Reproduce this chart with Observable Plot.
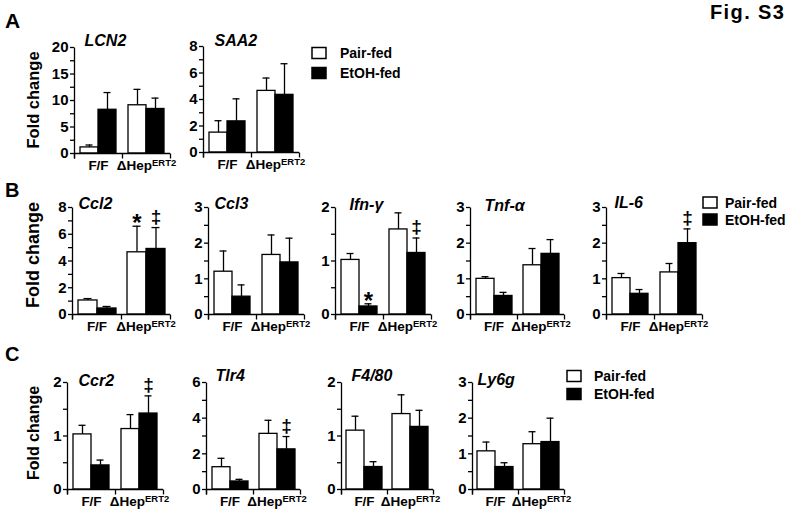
<!DOCTYPE html>
<html><head><meta charset="utf-8">
<script src="https://cdn.jsdelivr.net/npm/d3@7"></script>
<script src="https://cdn.jsdelivr.net/npm/@observablehq/plot@0.6"></script>
<style>
html,body{margin:0;padding:0;background:#fff;}
#fig{position:relative;width:788px;height:515px;overflow:hidden;background:#fff;font-family:"Liberation Sans",Arial,sans-serif;}
</style></head><body><div id="fig"></div>
<script>
// ---------- data ----------
const genes = ["LCN2","SAA2","Ccl2","Ccl3","Ifn-γ","Tnf-α","IL-6","Ccr2","Tlr4","F4/80","Ly6g"];
const groups = ["F/F", "ΔHepERT2"];
const conditions = ["Pair-fed", "EtOH-fed"];
// means and SEM (F/F = floxed, KO = ΔHepERT2)
const pairFF     = [1.15, 1.5,  1.05, 1.2,  1.02, 1.0,  1.02, 1.03, 1.25, 1.1,  1.07];
const pairFFsem  = [0.45, 0.9,  0.14, 0.58, 0.12, 0.06, 0.13, 0.17, 0.5,  0.27, 0.26];
const etohFF     = [8.25, 2.35, 0.45, 0.5,  0.15, 0.52, 0.58, 0.45, 0.45, 0.42, 0.63];
const etohFFsem  = [3.25, 1.7,  0.15, 0.33, 0.05, 0.1,  0.12, 0.1,  0.12, 0.1,  0.12];
const pairKO     = [9.1,  4.65, 4.65, 1.67, 1.59, 1.38, 1.18, 1.13, 3.12, 1.41, 1.27];
const pairKOsem  = [3.0,  0.97, 1.95, 0.56, 0.31, 0.47, 0.25, 0.27, 0.76, 0.36, 0.35];
const etohKO     = [8.4,  4.35, 4.9,  1.46, 1.15, 1.7,  2.0,  1.42, 2.25, 1.17, 1.33];
const etohKOsem  = [2.05, 2.35, 1.6,  0.68, 0.28, 0.4,  0.4,  0.33, 0.72, 0.31, 0.67];
const yMax       = [20, 8, 8, 3, 2, 3, 3, 2, 6, 2, 3];
const yLabelStep = [5, 2, 2, 1, 1, 1, 1, 1, 2, 1, 1];
const yMinorStep = [2.5, 1, 1, 0.5, 0.5, 0.5, 0.5, 0.5, 1, 0.5, 0.5];
// significance marks
const sigGene   = ["Ccl2", "Ccl2", "Ifn-γ", "Ifn-γ", "IL-6", "Ccr2", "Tlr4"];
const sigGroup  = ["ΔHepERT2", "ΔHepERT2", "F/F", "ΔHepERT2", "ΔHepERT2", "ΔHepERT2", "ΔHepERT2"];
const sigCond   = ["Pair-fed", "EtOH-fed", "EtOH-fed", "EtOH-fed", "EtOH-fed", "EtOH-fed", "EtOH-fed"];
const sigSymbol = ["*", "‡", "*", "‡", "‡", "‡", "‡"];
const rowLetters = ["A", "B", "C"];
const yTitle = "Fold change";

// ---------- layout (page pixels) ----------
const layout = {
  "LCN2":  {x0: 73,  x1: 170, yTop: 47,  y0: 153, tdx: 10, tdy: -2},
  "SAA2":  {x0: 202, x1: 299, yTop: 46,  y0: 152, tdx: 11, tdy: -1},
  "Ccl2":  {x0: 71,  x1: 170, yTop: 207, y0: 314, tdx: 6,  tdy: 1},
  "Ccl3":  {x0: 207, x1: 304, yTop: 207, y0: 314, tdx: 6,  tdy: 1},
  "Ifn-γ": {x0: 335, x1: 431, yTop: 207, y0: 314, tdx: 14, tdy: 2},
  "Tnf-α": {x0: 470, x1: 564, yTop: 207, y0: 314, tdx: 14, tdy: 3},
  "IL-6":  {x0: 606, x1: 702, yTop: 207, y0: 314, tdx: 8,  tdy: 0},
  "Ccr2":  {x0: 66,  x1: 163, yTop: 382, y0: 489, tdx: 11, tdy: 3},
  "Tlr4":  {x0: 205, x1: 300, yTop: 382, y0: 489, tdx: 9,  tdy: -2},
  "F4/80": {x0: 340, x1: 433, yTop: 382, y0: 489, tdx: 10, tdy: -2},
  "Ly6g":  {x0: 472, x1: 564, yTop: 382, y0: 489, tdx: 5,  tdy: 2}
};

const FONT = "'Liberation Sans', Arial, sans-serif";
const fig = document.getElementById("fig");
const SW = 1.3;

function panel(i) {
  const g = genes[i];
  const L = layout[g];
  const innerW = L.x1 - L.x0, innerH = L.y0 - L.yTop;
  const mL = 34, mR = 8, mT = 26, mB = 28;
  const rows = [
    {group: groups[0], cond: conditions[0], mean: pairFF[i], sem: pairFFsem[i]},
    {group: groups[0], cond: conditions[1], mean: etohFF[i], sem: etohFFsem[i]},
    {group: groups[1], cond: conditions[0], mean: pairKO[i], sem: pairKOsem[i]},
    {group: groups[1], cond: conditions[1], mean: etohKO[i], sem: etohKOsem[i]}
  ];
  rows.forEach(r => r.top = r.mean + r.sem);
  const sig = sigGene.map((s, k) => ({gene: s, group: sigGroup[k], cond: sigCond[k], symbol: sigSymbol[k]}))
    .filter(s => s.gene === g)
    .map(s => ({...s, top: rows.find(r => r.group === s.group && r.cond === s.cond).top}));
  const eps = 1e-9;
  const allTicks = d3.range(0, yMax[i] + eps, yMinorStep[i]);
  const isMajor = v => Math.abs(v / yLabelStep[i] - Math.round(v / yLabelStep[i])) < 1e-6;

  const svg = Plot.plot({
    width: innerW + mL + mR,
    height: innerH + mT + mB,
    marginLeft: mL, marginRight: mR, marginTop: mT, marginBottom: mB,
    style: {fontFamily: FONT, fontWeight: "bold", fontSize: "15px", color: "black", background: "transparent", overflow: "visible"},
    fx: {domain: groups, padding: 0, label: null},
    x: {domain: conditions, paddingInner: 0, paddingOuter: 0.27, axis: null},
    y: {domain: [0, yMax[i]], label: null},
    color: {domain: conditions, range: ["white", "black"]},
    marks: [
      Plot.ruleX(rows, {fx: "group", x: "cond", y1: "mean", y2: "top", stroke: "black", strokeWidth: SW}),
      Plot.tickY(rows, {fx: "group", x: "cond", y: "top", stroke: "black", strokeWidth: SW, insetLeft: 5.5, insetRight: 5.5}),
      Plot.barY(rows, {fx: "group", x: "cond", y: "mean", fill: "cond", stroke: "black", strokeWidth: SW}),
      Plot.ruleY([0], {stroke: "black", strokeWidth: SW}),
      Plot.frame({anchor: "left", facetAnchor: "left", insetBottom: -5, stroke: "black", strokeWidth: SW, strokeLinecap: "butt"}),
      Plot.frame({anchor: "left", insetTop: innerH, insetBottom: -5, stroke: "black", strokeWidth: SW, strokeLinecap: "butt"}),
      Plot.frame({anchor: "right", facetAnchor: "right", insetTop: innerH, insetBottom: -5, stroke: "black", strokeWidth: SW, strokeLinecap: "butt"}),
      Plot.axisY({ticks: allTicks, tickSize: 4, tickPadding: 2, strokeWidth: SW, fontSize: 15,
                  tickFormat: v => isMajor(v) ? d3.format("~g")(v) : "", label: null}),
      Plot.axisFx({anchor: "bottom", tickSize: 0, tickPadding: 7, fontSize: 13.5, label: null}),
      Plot.text(sig.filter(s => s.symbol === "*"), {fx: "group", x: "cond", y: "top", text: "symbol",
                  lineAnchor: "bottom", dy: 5, fontSize: 24}),
      Plot.text(sig.filter(s => s.symbol !== "*"), {fx: "group", x: "cond", y: "top", text: "symbol",
                  lineAnchor: "bottom", dy: -5, fontSize: 19}),
      Plot.text([g], {text: d => d, frameAnchor: "top-left", facetAnchor: "left", textAnchor: "start",
                  lineAnchor: "bottom", dx: L.tdx, dy: L.tdy, fontStyle: "italic", fontSize: 16})
    ]
  });
  // superscript ERT2
  d3.select(svg).selectAll("text").each(function () {
    if (this.textContent === "ΔHepERT2") {
      const t = d3.select(this);
      t.text(null);
      t.append("tspan").text("ΔHep");
      t.append("tspan").attr("font-size", "0.7em").attr("dy", "-0.45em").text("ERT2");
    }
  });
  svg.style.position = "absolute";
  svg.style.left = (L.x0 - mL) + "px";
  svg.style.top = (L.yTop - mT) + "px";
  fig.appendChild(svg);
}
genes.forEach((g, i) => panel(i));

// ---------- overlay: figure labels and legends ----------
const ov = d3.select(fig).append("svg")
  .attr("width", 788).attr("height", 515)
  .style("position", "absolute").style("left", "0px").style("top", "0px")
  .style("font-family", FONT).style("font-weight", "bold");

ov.append("text").attr("x", 710).attr("y", 19).attr("font-size", 20)
  .attr("letter-spacing", "1.4px").text("Fig. S3");

const letterPos = [[5, 28], [5, 197], [5, 361]];
rowLetters.forEach((l, k) => ov.append("text").attr("x", letterPos[k][0]).attr("y", letterPos[k][1])
  .attr("font-size", k === 0 ? 21 : 20).text(l));

const ylab = [[33, 100, 16.5], [33, 255, 18], [33, 433, 16]];
ylab.forEach(([cx, cy, fs]) => ov.append("text")
  .attr("transform", `translate(${cx},${cy}) rotate(-90)`)
  .attr("text-anchor", "middle").attr("dy", "0.36em").attr("font-size", fs).text(yTitle));

const legends = [
  {x: 312, y: 47.5, dy: 20, tx: 340},
  {x: 703, y: 197, dy: 17, tx: 725},
  {x: 567, y: 370.5, dy: 18, tx: 594}
];
const legendFill = ["white", "black"];
legends.forEach(Lg => {
  conditions.forEach((c, k) => {
    ov.append("rect").attr("x", Lg.x).attr("y", Lg.y + k * Lg.dy).attr("width", 14).attr("height", 11)
      .attr("fill", legendFill[k]).attr("stroke", "black").attr("stroke-width", 1.5);
    ov.append("text").attr("x", Lg.tx).attr("y", Lg.y + k * Lg.dy + 5.5).attr("dy", "0.36em")
      .attr("font-size", 14).text(c);
  });
});
</script></body></html>
